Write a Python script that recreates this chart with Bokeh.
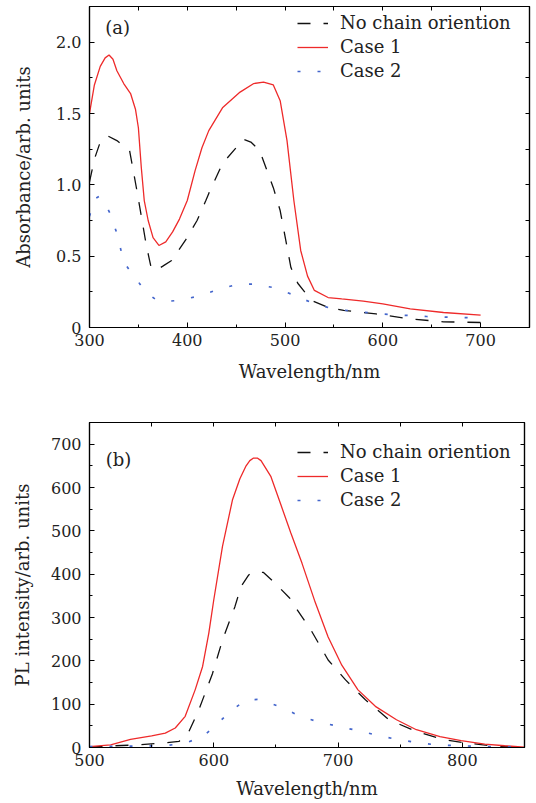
from bokeh.plotting import figure
from bokeh.models import (LinearAxis, Range1d, SingleIntervalTicker, FixedTicker, Legend,
                          LegendItem, Label, NumeralTickFormatter, BasicTickFormatter)
from bokeh.layouts import column
from bokeh.embed import file_html
from bokeh.resources import INLINE

FONT = "DejaVu Serif"
RED = "#ee2a2a"
BLUE = "#4466cc"
BLACK = "#111111"

# ---------------- data: (a) absorbance ----------------
abs_wl_none = [300, 305, 310, 318, 328, 341, 349, 353, 358, 363, 368, 375, 384, 398, 410, 419,
               422, 436, 450, 457, 465, 474, 488, 495, 506, 513, 527, 544, 560, 593, 628, 662, 700]
abs_none = [1.02, 1.18, 1.28, 1.345, 1.31, 1.24, 0.94, 0.78, 0.58, 0.42, 0.40, 0.43, 0.47, 0.61,
            0.75, 0.89, 0.94, 1.15, 1.26, 1.32, 1.30, 1.24, 0.98, 0.82, 0.42, 0.31, 0.19, 0.14,
            0.12, 0.095, 0.06, 0.04, 0.035]

abs_wl_case1 = [300, 305, 311, 316, 320, 324, 328, 335, 342, 347, 350, 353, 356, 360, 365, 371,
                378, 385, 392, 400, 408, 415, 422, 436, 454, 468, 478, 488, 495, 502, 509, 516,
                523, 530, 544, 558, 580, 600, 628, 662, 700]
abs_case1 = [1.50, 1.70, 1.83, 1.89, 1.91, 1.88, 1.80, 1.71, 1.64, 1.53, 1.40, 1.12, 0.89, 0.75,
             0.63, 0.575, 0.60, 0.67, 0.76, 0.89, 1.10, 1.26, 1.38, 1.54, 1.65, 1.71, 1.72, 1.70,
             1.59, 1.31, 0.89, 0.54, 0.36, 0.26, 0.21, 0.20, 0.185, 0.165, 0.13, 0.105, 0.087]

abs_wl_case2 = [300, 305, 310, 315, 321, 328, 335, 341, 348, 354, 360, 367, 374, 391, 412, 433,
                450, 468, 488, 506, 527, 544, 565, 600, 645, 700]
abs_case2 = [0.78, 0.90, 0.92, 0.88, 0.80, 0.66, 0.46, 0.40, 0.34, 0.28, 0.235, 0.20, 0.18, 0.19,
             0.22, 0.27, 0.30, 0.305, 0.28, 0.235, 0.175, 0.14, 0.117, 0.094, 0.077, 0.066]

# ---------------- data: (b) PL intensity ----------------
pl_wl_none = [500, 520, 539, 558, 572, 580, 588, 599, 607, 617, 622, 628, 633, 640, 648, 661,
              667, 678, 692, 706, 722, 741, 763, 785, 804, 823, 840]
pl_none = [1, 4, 6, 10, 14, 37, 87, 171, 248, 325, 372, 398, 406, 404, 383, 345, 318, 272, 202,
           156, 110, 64, 37, 18, 10, 4, 1.5]

pl_wl_case1 = [500, 517, 533, 550, 561, 569, 577, 585, 591, 596, 600, 607, 615, 621, 626, 629,
               632, 635, 638, 646, 654, 662, 671, 681, 692, 703, 716, 730, 747, 763, 782, 799,
               818, 834, 850]
pl_case1 = [2, 6, 19, 27, 33, 45, 72, 133, 187, 264, 341, 464, 571, 620, 650, 662, 668, 668, 662,
            625, 560, 495, 425, 340, 255, 190, 133, 95, 64, 41, 25, 16, 8, 4, 1]

pl_wl_case2 = [500, 530, 560, 577, 591, 602, 613, 626, 637, 656, 670, 686, 703, 719, 733, 747,
               763, 779, 799, 818, 840]
pl_case2 = [2, 3, 4, 10, 25, 52, 83, 110, 111, 91, 71, 58, 47, 37, 27, 19, 11.5, 6, 4, 2, 1.5]

labels = ["No chain oriention", "Case 1", "Case 2"]

# tick positions for the unlabeled top / right frame axes
abs_x_ticks = [300, 350, 400, 450, 500, 550, 600, 650, 700, 750]
abs_y_ticks = [0, 0.25, 0.5, 0.75, 1.0, 1.25, 1.5, 1.75, 2.0, 2.25]
pl_x_ticks = [500, 550, 600, 650, 700, 750, 800, 850]
pl_y_ticks = [0, 50, 100, 150, 200, 250, 300, 350, 400, 450, 500, 550, 600, 650, 700, 750]


def style_axis(ax):
    ax.axis_line_color = "black"
    ax.axis_line_width = 1.2
    ax.major_tick_in = 5
    ax.major_tick_out = 0
    ax.minor_tick_in = 3
    ax.minor_tick_out = 0
    ax.major_tick_line_color = "black"
    ax.minor_tick_line_color = "black"
    ax.major_label_text_font = FONT
    ax.major_label_text_font_size = "16px"
    ax.major_label_text_color = "#222222"
    ax.axis_label_text_font = FONT
    ax.axis_label_text_font_style = "normal"
    ax.axis_label_text_font_size = "18px"
    ax.axis_label_text_color = "#222222"


def frame_axis(ticks):
    ax = LinearAxis(ticker=FixedTicker(ticks=[], minor_ticks=ticks))
    style_axis(ax)
    ax.minor_tick_in = 4
    ax.major_label_standoff = 0
    return ax


def make_panel(xr, yr, xint, yint, ylabel, height, top, bottom, yfmt, xlabel_standoff,
               ylabel_standoff, series, legend_y, tag, tag_xy, xticks, yticks, fw):
    p = figure(width=89 + fw + 2, height=height, x_range=Range1d(*xr), y_range=Range1d(*yr),
               output_backend="svg", toolbar_location=None, x_axis_type=None, y_axis_type=None,
               min_border_left=89, min_border_right=2, min_border_top=top,
               min_border_bottom=bottom)
    p.xgrid.visible = False
    p.ygrid.visible = False
    p.outline_line_color = "black"
    p.outline_line_width = 1.2
    p.background_fill_color = "white"
    p.border_fill_color = "white"

    xt = SingleIntervalTicker(interval=xint, num_minor_ticks=2)
    yt = SingleIntervalTicker(interval=yint, num_minor_ticks=2)

    xb = LinearAxis(ticker=xt, axis_label="Wavelength/nm")
    style_axis(xb)
    xb.major_label_standoff = 6
    xb.axis_label_standoff = xlabel_standoff
    p.add_layout(xb, "below")

    yl = LinearAxis(ticker=yt, axis_label=ylabel, formatter=yfmt)
    style_axis(yl)
    yl.major_label_standoff = 8
    yl.axis_label_standoff = ylabel_standoff
    p.add_layout(yl, "left")

    p.add_layout(frame_axis(xticks), "above")
    p.add_layout(frame_axis(yticks), "right")

    rends = []
    styles = [(BLACK, 1.3, "13 13"), (RED, 1.3, "solid"), (BLUE, 1.7, "3 17")]
    for (xs, ys), (c, w, d) in zip(series, styles):
        rends.append(p.line(xs, ys, line_color=c, line_width=w, line_dash=d))

    leg = Legend(items=[LegendItem(label=l, renderers=[r]) for l, r in zip(labels, rends)],
                 location=(208, legend_y))
    leg.border_line_color = None
    leg.background_fill_alpha = 0
    leg.label_text_font = FONT
    leg.label_text_font_size = "18px"
    leg.label_text_color = "#222222"
    leg.glyph_width = 31
    leg.glyph_height = 20
    leg.label_height = 20
    leg.label_standoff = 12
    leg.spacing = 3
    leg.padding = 0
    leg.margin = 0
    p.add_layout(leg)

    p.add_layout(Label(x=tag_xy[0], y=tag_xy[1], text=tag, text_font=FONT,
                       text_font_size="18px", text_baseline="middle", text_color="#222222"))
    return p


fmt_a = NumeralTickFormatter(format="0.0")
p1 = make_panel((300, 750), (0, 2.25), 100, 0.5, "Absorbance/arb. units", 395, 6, 68, fmt_a, 12, 19,
                [(abs_wl_none, abs_none), (abs_wl_case1, abs_case1), (abs_wl_case2, abs_case2)],
                246, "(a)", (316, 2.1), abs_x_ticks, abs_y_ticks, 440)
p1.left[0].major_label_overrides = {0: "0"}

p2 = make_panel((500, 850), (0, 750), 100, 100, "PL intensity/arb. units", 408, 27, 56,
                BasicTickFormatter(), 9, 15,
                [(pl_wl_none, pl_none), (pl_wl_case1, pl_case1), (pl_wl_case2, pl_case2)],
                237, "(b)", (513, 665), pl_x_ticks, pl_y_ticks, 435)

layout = column(p1, p2, spacing=0)
open("out.html", "w").write(file_html(layout, INLINE))
